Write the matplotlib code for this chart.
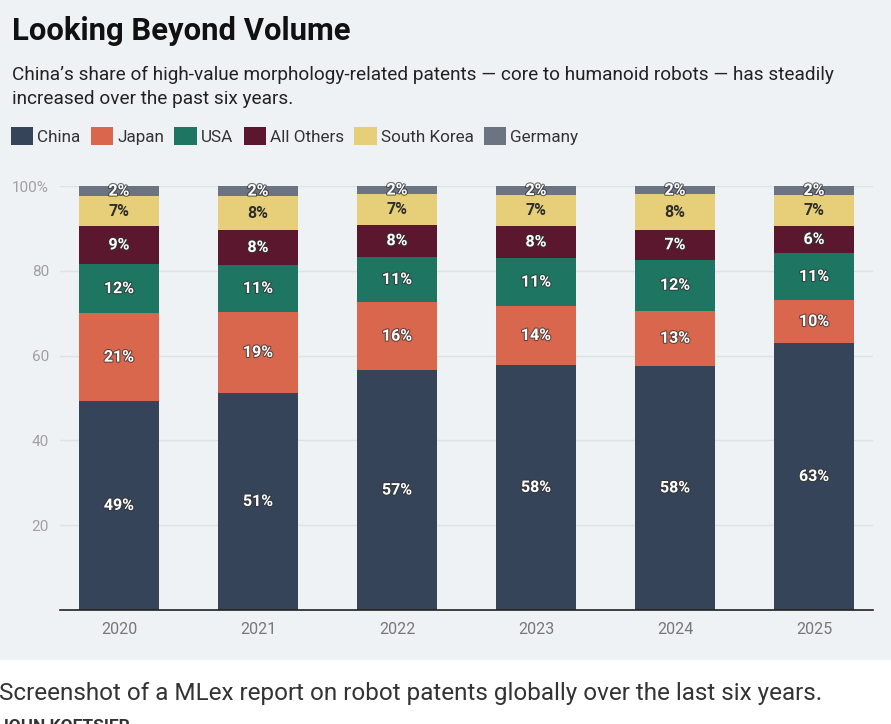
import numpy as np
import matplotlib
matplotlib.use("Agg")
import matplotlib.pyplot as plt
import matplotlib.patheffects as pe
from matplotlib.patches import Rectangle

plt.rcParams['font.family'] = ['Roboto', 'DejaVu Sans']

# data (shares in %)
years = ['2020', '2021', '2022', '2023', '2024', '2025']
china = [49.3, 51.2, 56.6, 57.8, 57.6, 63.0]
japan = [20.7, 19.1, 16.0, 13.9, 13.0, 10.1]
usa = [11.6, 11.1, 10.7, 11.3, 12.0, 11.1]
others = [9.0, 8.2, 7.6, 7.6, 7.1, 6.4]
korea = [7.0, 8.0, 7.1, 7.3, 8.3, 7.3]
germany = [2.4, 2.4, 2.1, 2.1, 2.0, 2.1]

series = ['China', 'Japan', 'USA', 'All Others', 'South Korea', 'Germany']
values = [china, japan, usa, others, korea, germany]
colors = ['#364459', '#d9674e', '#1d7562', '#5b172e', '#e6cf78', '#6b7480']
text_cols = ['white', 'white', 'white', 'white', '#2e2e2e', 'white']

bg = '#eff2f4'
fig = plt.figure(figsize=(8.91, 7.24), dpi=100)
fig.patch.set_facecolor('white')
fig.patches.append(Rectangle((0, 64/724), 1, 1, transform=fig.transFigure,
                             facecolor=bg, edgecolor='none', zorder=-10))

ax = fig.add_axes([60/891, 114/724, 813/891, 424/724])
ax.set_facecolor(bg)

x = np.arange(len(years))
bottom = np.zeros(len(years))
for name, vals, c, tc in zip(series, values, colors, text_cols):
    vals = np.array(vals)
    ax.bar(x, vals, 0.58, bottom=bottom, color=c, label=name, zorder=3)
    for xi, b, v in zip(x, bottom, vals):
        if tc == 'white':
            eff = [pe.withStroke(linewidth=1.6, foreground='#333333', alpha=0.7)]
        else:
            eff = []
        ax.text(xi, b + v/2, f"{v:.0f}%", ha='center', va='center',
                color=tc, fontsize=11.5, fontweight='bold', zorder=4,
                path_effects=eff)
    bottom += vals

ax.set_xlim(-0.424, len(years) - 1 + 0.424)
ax.set_ylim(0, 100)
ax.set_xticks(x)
ax.set_xticklabels(years)
ax.set_yticks([20, 40, 60, 80, 100])
ax.set_yticklabels(['20', '40', '60', '80', '100%'])
ax.tick_params(axis='y', length=0, pad=8, labelsize=11, labelcolor='#a0a0a0')
ax.tick_params(axis='x', length=0, pad=9, labelsize=11.5, labelcolor='#777777')
ax.grid(axis='y', color='#dfe2e5', linewidth=1, zorder=0)
for s in ['top', 'right', 'left']:
    ax.spines[s].set_visible(False)
ax.spines['bottom'].set_color('#222222')
ax.spines['bottom'].set_linewidth(1.2)
ax.spines['bottom'].set_zorder(5)

# titles
fig.text(12/891, 1 - 40/724, 'Looking Beyond Volume', fontsize=22.3,
         fontweight='bold', color='#111111', va='baseline')
fig.text(12/891, 1 - 80/724,
         "China’s share of high-value morphology-related patents — core to humanoid robots — has steadily",
         fontsize=13.7, color='#222222', va='baseline')
fig.text(12/891, 1 - 104/724, 'increased over the past six years.',
         fontsize=13.7, color='#222222', va='baseline')

# legend
fig.legend(loc='center left', bbox_to_anchor=(4/891, 1 - 136/724), ncol=6,
           frameon=False, handlelength=1.3, handleheight=1.3, handletextpad=0.25,
           columnspacing=0.6, fontsize=12.3, labelcolor='#333333', borderaxespad=0)

# caption below chart
fig.text(-1/891, 24/724,
         'Screenshot of a MLex report on robot patents globally over the last six years.',
         fontsize=17.5, color='#333333', va='baseline')
fig.text(-1/891, -7/724, 'JOHN KOETSIER', fontsize=12.5, fontweight='bold',
         color='#333333', va='baseline')

fig.savefig('out.png', dpi=100, facecolor=fig.get_facecolor())
